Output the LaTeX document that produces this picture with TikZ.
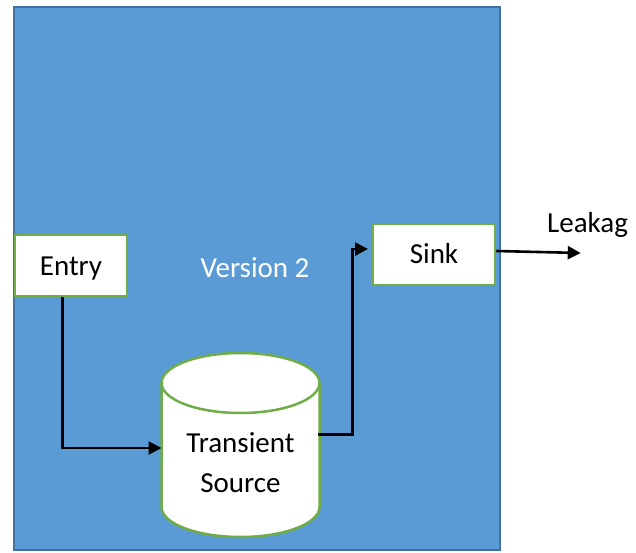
\documentclass[tikz,border=0pt]{standalone}
\usepackage{fontspec}
\setmainfont{Carlito}
\usetikzlibrary{arrows.meta}
\definecolor{panelblue}{HTML}{5B9BD5}
\definecolor{paneledge}{HTML}{41719C}
\definecolor{boxgreen}{HTML}{70AD47}
\tikzset{
  panel/.style={fill=panelblue, draw=paneledge, line width=1.6pt},
  stagebox/.style={rectangle, fill=white, draw=boxgreen, line width=2.5pt,
    inner sep=0pt, text height=19pt, text depth=0pt,
    font=\fontsize{29}{40}\selectfont},
  drum/.style={fill=white, draw=boxgreen, line width=2.5pt},
  conn/.style={draw=black, line width=2.6pt,
    -{Triangle[length=13pt,width=13pt]}},
  label/.style={font=\fontsize{29}{40}\selectfont, inner sep=0pt}
}
\begin{document}
\begin{tikzpicture}[x=1pt,y=1pt]
  \useasboundingbox (0,0) rectangle (636,552);

  % background panel
  \path[panel] (14,2) rectangle (500,545);

  % boxes
  \node[stagebox, minimum width=112pt, minimum height=61pt] (entry) at (71,286.5) {Entry};
  \node[stagebox, minimum width=122pt, minimum height=61pt] (sink) at (434,297.5) {Sink};

  % storage drum (cylinder)
  \path[drum] (161.5,169) -- (161.5,45)
    arc[start angle=180, end angle=360, x radius=79pt, y radius=30pt]
    -- (319.5,169)
    arc[start angle=0, end angle=180, x radius=79pt, y radius=30pt] -- cycle;
  \draw[drum, fill=none] (161.5,169)
    arc[start angle=180, end angle=360, x radius=79pt, y radius=30pt];
  \node[label, align=center] (src) at (240.5,89) {Transient\\Source};
  \coordinate (srcW) at (161.5,104);
  \coordinate (srcE) at (318,117.7);

  % free labels
  \node[label, text=white, anchor=base] (ver) at (255,274.7) {Version 2};
  \node[label, anchor=base west] (leak) at (547,319) {Leakag};

  % connectors
  \coordinate (sinkIn) at (368,303);
  \coordinate (leakEnd) at (580.7,299);
  \draw[conn] ([xshift=-8.7pt]entry.south) |- (srcW);
  \draw[conn] (srcE) -| (352.5,303) -- (sinkIn);
  \draw[conn] (sink.east |- 0,301) -- (leakEnd);
\end{tikzpicture}
\end{document}
